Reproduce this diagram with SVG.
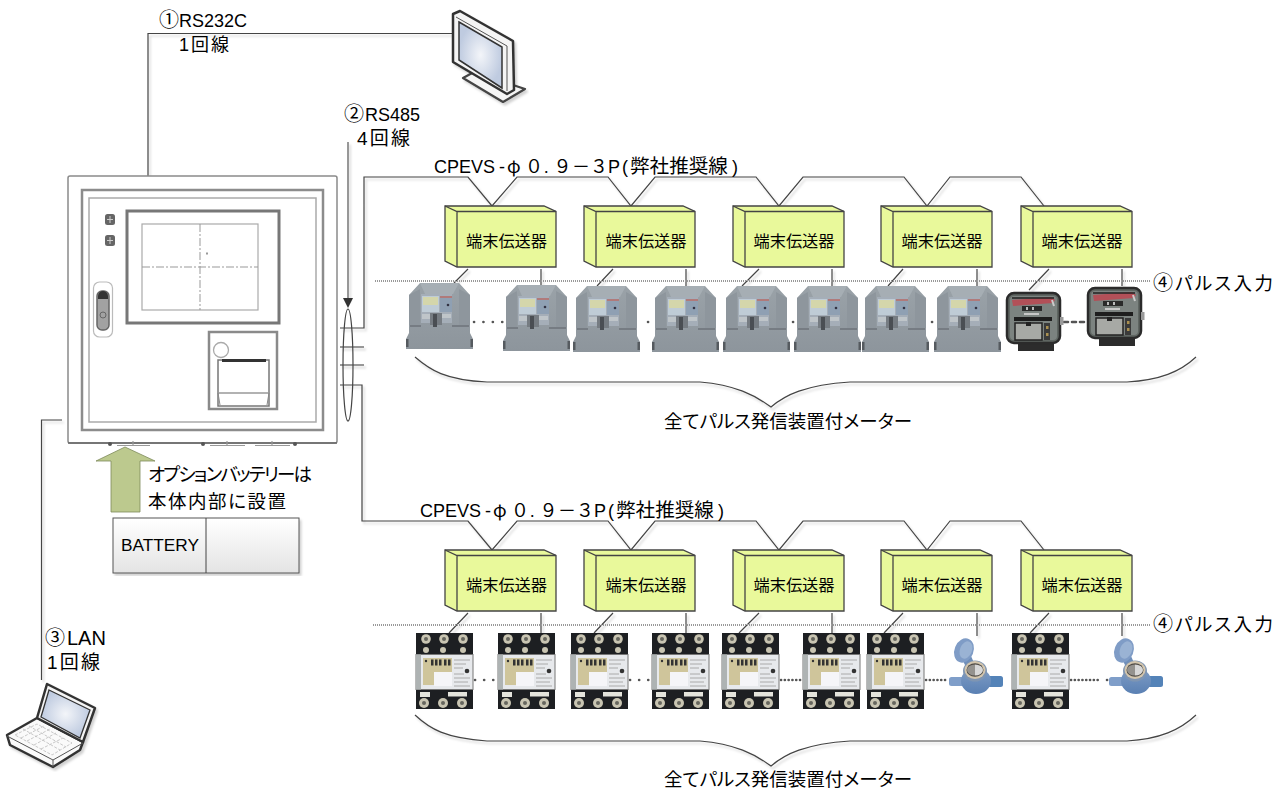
<svg xmlns="http://www.w3.org/2000/svg" width="1285" height="792" viewBox="0 0 1285 792">
<style>
text{font-family:"Liberation Sans","Noto Sans CJK JP",sans-serif;fill:#000}
.l{font-size:18px}
.cj{font-family:"Noto Sans CJK JP",sans-serif}
.dot{font-family:"Noto Sans CJK JP",sans-serif;font-size:10px;font-weight:700}
.big{font-size:18.500px;font-family:"Noto Sans CJK JP",sans-serif;font-feature-settings:"palt"}
.m{font-size:16.200px;text-anchor:middle;font-family:"Noto Sans CJK JP",sans-serif}
.c{fill:none;stroke:#444;stroke-width:1.2}
.cg{fill:none;stroke:#777;stroke-width:1.5}
.dotline{fill:none;stroke:#999;stroke-width:2;stroke-dasharray:1 1}
.d{fill:none;stroke:#555;stroke-width:2.6;stroke-linecap:round}
.box{fill:#e9f99b;stroke:#444;stroke-width:1.3}
.sh{filter:url(#shadow)}
</style>
<defs>
<filter id="shadow" x="-5%" y="-5%" width="110%" height="110%"><feDropShadow dx="2" dy="2.5" stdDeviation="1" flood-color="#000" flood-opacity="0.18"/></filter>
<radialGradient id="scr"><stop offset="0" stop-color="#f3f5f9"/><stop offset="1" stop-color="#bfcbe0"/></radialGradient>
<linearGradient id="batt" x1="0" y1="0" x2="0" y2="1"><stop offset="0" stop-color="#ffffff"/><stop offset="1" stop-color="#e4e4e4"/></linearGradient>
<linearGradient id="gm" x1="0" y1="0" x2="0" y2="1"><stop offset="0" stop-color="#9aa2a8"/><stop offset="1" stop-color="#8d959c"/></linearGradient>
<linearGradient id="wb" x1="0" y1="0" x2="0" y2="1"><stop offset="0" stop-color="#7f9dc6"/><stop offset="1" stop-color="#5a80b3"/></linearGradient>
<g id="terminal">
<path d="M0 0V55L12 61H111V5.500L99 0Z" class="box"/>
<path d="M0 0L12 5.500H111M12 5.500V61" class="box" style="fill:none"/>
</g>
<g id="gmeter">
<path d="M3 12L14 0H53L64 12V50L67 56V66H0V56L3 50Z" fill="url(#gm)"/>
<path d="M14 0H53L47 11H19Z" fill="#a6aeb4"/>
<path d="M3 12L14 6V42H3Z" fill="#8e969d"/><path d="M64 12L53 6V42H64Z" fill="#8e969d"/>
<path d="M4 43H15M46 43H63" stroke="#6d7379" stroke-width="1.300" fill="none"/>
<rect x="0" y="56" width="2.500" height="8" fill="#555a5f"/><rect x="64.500" y="56" width="2.500" height="8" fill="#555a5f"/>
<rect x="15" y="11" width="31" height="29" fill="#a5aeb8"/>
<rect x="16" y="13" width="17" height="16" fill="#bfccd6"/>
<rect x="17" y="14" width="15" height="8" fill="#d4d6ab"/>
<rect x="34" y="13" width="12" height="16" fill="#8fa0b3"/>
<rect x="34" y="13" width="12" height="2" fill="#b07a7a"/>
<circle cx="42" cy="22" r="1.300" fill="#334"/>
<rect x="16" y="31" width="9" height="5" fill="#bfc5c9"/><rect x="35" y="31" width="10" height="4" fill="#bfc5c9"/>
<rect x="24" y="30" width="12" height="12" fill="#767c82"/><rect x="27" y="31" width="4" height="13" fill="#4a4e53"/>
</g>
<g id="bmeter">
<rect x="12" y="44" width="36" height="15" fill="#2c2c2c"/>
<rect x="1" y="1" width="53" height="50" rx="7" fill="#5f6662" stroke="#2b2b2b" stroke-width="2.500"/>
<rect x="4" y="4" width="47" height="44" rx="4" fill="#7c8380"/>
<path d="M6 8L45 5L49 8L47 11L7 14Z" fill="#b25058"/>
<path d="M6 6H48" stroke="#222" stroke-width="1.500"/>
<rect x="16" y="14" width="20" height="5" fill="#2a2a2a"/>
<rect x="20" y="15" width="2" height="3" fill="#bbb"/><rect x="26" y="15" width="2" height="3" fill="#bbb"/>
<rect x="18" y="21" width="15" height="2" fill="#c8c8c8"/>
<rect x="8" y="25" width="38" height="4" fill="#1e1e1e"/>
<rect x="9" y="31" width="27" height="17" fill="#a7a9a5" stroke="#222" stroke-width="1.500"/>
<rect x="20" y="30" width="5" height="4" fill="#222"/>
<rect x="38" y="31" width="6" height="17" fill="#3a3a3a"/><rect x="40" y="34" width="2.500" height="3" fill="#a98f50"/><rect x="40" y="41" width="2.500" height="3" fill="#a98f50"/>
<path d="M46 8L48 14" stroke="#ccc" stroke-width="2"/>
<rect x="54" y="25" width="3.500" height="8" fill="#9a9a9a"/>
</g>
<g id="tmeter">
<rect x="0" y="0" width="57" height="76" fill="#1d1f22"/>
<g fill="#c9c5b2"><circle cx="10" cy="6" r="4.800"/><circle cx="28" cy="6" r="4.800"/><circle cx="47" cy="6" r="4.800"/><circle cx="10" cy="17" r="3"/><circle cx="27" cy="17" r="3"/><circle cx="47" cy="17" r="3"/><circle cx="8" cy="70" r="5"/><circle cx="27" cy="70" r="5"/><circle cx="46" cy="70" r="5"/></g>
<g fill="#66665e"><circle cx="10" cy="6" r="2"/><circle cx="28" cy="6" r="2"/><circle cx="47" cy="6" r="2"/><circle cx="8" cy="70" r="2"/><circle cx="27" cy="70" r="2"/><circle cx="46" cy="70" r="2"/></g>
<rect x="0" y="21.500" width="57" height="35" fill="#e7e9ec" stroke="#777"/>
<rect x="0" y="21.500" width="5" height="35" fill="#aeb3b3"/>
<path d="M7 25H36V39H18V52H7Z" fill="#cfc59b"/>
<rect x="18" y="39" width="18" height="14" fill="#f5f5f8"/>
<g fill="#333"><rect x="15" y="26.500" width="2.500" height="6"/><rect x="19" y="26.500" width="2.500" height="6"/><rect x="23" y="26.500" width="2.500" height="6"/><rect x="28" y="26.500" width="2.500" height="6"/><rect x="32" y="26.500" width="2.500" height="6"/><circle cx="10" cy="28" r="1.200"/><circle cx="51" cy="38" r="2.300"/></g>
<g stroke="#aaa" stroke-width="1" fill="none"><path d="M38 27H54M38 31H50M38 35H47M38 41H48M38 45H54M38 49H52M38 53H54"/></g>
<rect x="4" y="59" width="10" height="5" fill="#e4e4dc"/><rect x="32" y="59" width="19" height="4.500" fill="#e4e4dc"/>
</g>
<g id="wmeter">
<path d="M13 20L22 17L26 26L18 30Z" fill="#6f8fbb"/>
<ellipse cx="15" cy="11.500" rx="9.500" ry="12.500" transform="rotate(22 15 11.500)" fill="#7f9cc6"/>
<ellipse cx="17" cy="11" rx="6" ry="9" transform="rotate(22 17 11)" fill="#9ab3d4"/>
<rect x="0" y="38" width="16" height="9" rx="2.500" fill="#7f9ec9"/>
<rect x="38" y="37" width="16" height="11" rx="2.500" fill="#5483b8"/>
<ellipse cx="27" cy="42" rx="15" ry="13" fill="url(#wb)"/>
<ellipse cx="26" cy="32" rx="12" ry="10.500" fill="#7f95b2"/>
<ellipse cx="26" cy="31" rx="10.500" ry="9" fill="#d3c6ae"/>
<ellipse cx="26" cy="31" rx="8.500" ry="6.800" fill="#4e4a45"/>
<path d="M26 25.500A8 5.500 0 0 1 26 36.500Z" fill="#d8d8d8"/><path d="M26 25.500A8 5.500 0 0 0 26 36.500Z" fill="#94928e"/>
</g>
</defs>
<rect width="1285" height="792" fill="#fff"/>

<g id="connectors">
<g class="sh">
<path class="c" d="M148 176V33.500H453"/>
<path class="cg" d="M348 142V300"/>
<path class="c" d="M340 328H364V177H468L492 206L517 177H608L631 206L655 177H756L779 206L803 177H904L927 206L950 177H1021L1044 206"/>
<path class="c" d="M340 385H362V521H468L492 550L517 521H608L631 550L655 521H756L779 550L803 521H904L927 550L950 521H1021L1044 550"/>
<path class="cg" d="M340 347H364M340 365H364"/>
<path class="c" d="M62 420H41.500V680"/>
<path class="c" d="M468 269L454 283M541 269V285M613 269L597 286M686 269V286M759 269L742 286M832 269V286M903 269L888 286M977 269V286M1049 269L1029 290M1122 269V286"/>
<path class="c" d="M468 613L449 633M541 613V633M613 613L594 633M686 613V633M759 613L739 633M832 613V633M903 613L884 633M977 613V636M1049 613L1030 633M1122 613V636"/>
<path class="c" d="M415 357C430 370 445 380 487 382H700C735 385 755 395 771 407C785 395 805 385 850 382H1127C1160 380 1180 372 1196 357"/>
<path class="c" d="M415 715C430 729 445 738 487 741H700C735 744 755 754 771 766C785 754 805 744 850 741H1127C1160 739 1180 730 1196 715"/>
</g>
<ellipse cx="348" cy="365" rx="5" ry="56" class="c"/>
<path d="M343 298H353L348 308Z" fill="#333"/>
<path class="dotline" d="M375 281H1150"/>
<path class="dotline" d="M373 625H1150"/>
<path class="d" stroke-dasharray="0.1 9.300" d="M474 322H503M648 322H649M793 322H794M932 322H933"/>
<path class="d" stroke-dasharray="4 4" d="M1064 322H1088"/>
<path class="d" stroke-dasharray="0.1 9" d="M475 680H494M630 680H649"/>
<path class="d" stroke-dasharray="0.1 3.700" d="M781 680H802M926 680H948M1071 680H1099M1107 680H1108"/>
</g>

<g id="cabinet" fill="none">
<rect x="68" y="176" width="269" height="267" rx="2" fill="#fff" stroke="#8a8a8a" stroke-width="1.500"/>
<path d="M68 443H337" stroke="#666" stroke-width="1.500"/>
<rect x="82" y="190" width="241" height="240" stroke="#8c8c8c" stroke-width="2.500"/>
<rect x="89" y="198" width="227" height="224" stroke="#aaa" stroke-width="1.500"/>
<rect x="127" y="211" width="152" height="112" stroke="#777" stroke-width="3"/>
<rect x="142" y="224" width="116" height="86" stroke="#aaa" stroke-width="1.200"/>
<path d="M200 224V310M142 267H258" stroke="#999" stroke-width="1" stroke-dasharray="8 2 2 2"/>
<rect x="206" y="252.500" width="2" height="2" fill="#999"/>
<rect x="105" y="214" width="10" height="11" rx="2.500" fill="#666"/><path d="M107 219.500H113M110 216V223" stroke="#ccc" stroke-width="1"/>
<rect x="105" y="235" width="10" height="11" rx="2.500" fill="#666"/><path d="M107 240.500H113M110 237V244" stroke="#ccc" stroke-width="1"/>
<rect x="93.500" y="282" width="19" height="55" rx="6" stroke="#bbb" stroke-width="1.200"/>
<rect x="97" y="291" width="12" height="39" rx="5" fill="#a2a2a2" stroke="#666" stroke-width="1.500"/>
<path d="M98 299V296A5 5 0 0 1 108 296V299Z" fill="#333"/>
<circle cx="103" cy="315" r="3" stroke="#666"/>
<rect x="209" y="332" width="68" height="77" stroke="#8a8a8a" stroke-width="2.500"/>
<circle cx="221" cy="350" r="7.500" stroke="#aaa" stroke-width="1.300" fill="#fff"/>
<rect x="218" y="360" width="51" height="46" stroke="#777" stroke-width="1.500"/>
<path d="M222 360.500H266" stroke="#333" stroke-width="3"/>
<path d="M218 393H269" stroke="#999" stroke-width="1.300"/><path d="M218 393L220 405M269 393L267 405" stroke="#888"/>
<g fill="#555"><circle cx="110" cy="444" r="2"/><circle cx="203" cy="444" r="2"/><circle cx="295" cy="444" r="2"/></g>
<path d="M117 445.500H150M133 441V446M210 445.500H245M227 441V446M255 445.500H290M272 441V446" stroke="#999" stroke-width="1.200"/>
</g>

<g id="battery-arrow">
<path d="M125 447L155 461H140V512H111V461H96Z" fill="#bcc98e" stroke="#7e8a5b" stroke-width="0.800"/>
</g>
<g id="battery">
<rect x="113" y="518" width="186" height="55" fill="url(#batt)" stroke="#555" stroke-width="1" class="sh"/>
<path d="M206 518V573" stroke="#444" stroke-width="1"/>
<text x="121" y="551" font-size="16" textLength="78" lengthAdjust="spacingAndGlyphs">BATTERY</text>
</g>

<g id="monitor">
<g class="sh">
<path d="M463 78L474 72L525 89L503 102Z" fill="#f5f5f5" stroke="#444" stroke-width="2.200" stroke-linejoin="round"/>
<path d="M453 14L460 11L513 41L514 90L507 94L453 62Z" fill="#f4f4f4" stroke="#333" stroke-width="2.500" stroke-linejoin="round"/>
</g>
<path d="M459 22L502 47V88L459 60Z" fill="url(#scr)" stroke="#333" stroke-width="1.500"/>
<path d="M456 17L507 46V91" fill="none" stroke="#555" stroke-width="1"/>
</g>

<g id="laptop">
<g class="sh">
<path d="M7 735L37 718L83 742L80 750L53 767L10 745Z" fill="#fafafa" stroke="#333" stroke-width="2.500" stroke-linejoin="round"/>
<path d="M47 684L95 708L83 742L37 718Z" fill="#f4f4f4" stroke="#333" stroke-width="2.500" stroke-linejoin="round"/>
</g>
<path d="M49 690L90 710L80 738L41 717Z" fill="url(#scr)" stroke="#333" stroke-width="1.300"/>
<path d="M7 736L53 760V767M53 760L83 743" fill="none" stroke="#555" stroke-width="1"/>
<path d="M15 735L37 724L72 743L52 755ZM21 738L44 726M27 741L50 729M34 745L56 733M41 749L63 738M23 729L60 750M29 726L66 747" fill="none" stroke="#bbb" stroke-width="0.800" stroke-dasharray="3 1.500"/>
</g>

<g id="terminal-u1"><use href="#terminal" x="445" y="206"/><text class="m" x="506.500" y="246.500">端末伝送器</text></g>
<g id="terminal-u2"><use href="#terminal" x="584" y="206"/><text class="m" x="646" y="246.500">端末伝送器</text></g>
<g id="terminal-u3"><use href="#terminal" x="733" y="206"/><text class="m" x="794" y="246.500">端末伝送器</text></g>
<g id="terminal-u4"><use href="#terminal" x="881" y="206"/><text class="m" x="942" y="246.500">端末伝送器</text></g>
<g id="terminal-u5"><use href="#terminal" x="1021" y="206"/><text class="m" x="1082" y="246.500">端末伝送器</text></g>
<g id="terminal-l1"><use href="#terminal" x="445" y="550"/><text class="m" x="506.500" y="590.500">端末伝送器</text></g>
<g id="terminal-l2"><use href="#terminal" x="584" y="550"/><text class="m" x="646" y="590.500">端末伝送器</text></g>
<g id="terminal-l3"><use href="#terminal" x="733" y="550"/><text class="m" x="794" y="590.500">端末伝送器</text></g>
<g id="terminal-l4"><use href="#terminal" x="881" y="550"/><text class="m" x="942" y="590.500">端末伝送器</text></g>
<g id="terminal-l5"><use href="#terminal" x="1021" y="550"/><text class="m" x="1082" y="590.500">端末伝送器</text></g>

<g id="meters-upper">
<use href="#gmeter" x="406" y="283"/><use href="#gmeter" x="503" y="285"/><use href="#gmeter" x="573" y="286"/><use href="#gmeter" x="652" y="286"/><use href="#gmeter" x="723" y="286"/><use href="#gmeter" x="794" y="286"/><use href="#gmeter" x="862" y="286"/><use href="#gmeter" x="934" y="286"/>
<use href="#bmeter" x="1006" y="292"/><use href="#bmeter" x="1087" y="287"/>
</g>
<g id="meters-lower">
<use href="#tmeter" x="416" y="633"/><use href="#tmeter" x="498" y="633"/><use href="#tmeter" x="571" y="633"/><use href="#tmeter" x="652" y="633"/><use href="#tmeter" x="722" y="633"/><use href="#tmeter" x="803" y="633"/><use href="#tmeter" x="867" y="633"/><use href="#tmeter" x="1012" y="633"/>
<use href="#wmeter" x="949" y="639"/><use href="#wmeter" x="1109" y="639"/>
</g>

<g id="labels" class="l">
<text x="159" y="27"><tspan class="cj" font-size="20">①</tspan><tspan x="179">RS232C</tspan></text>
<text x="179" y="51" textLength="50">1回線</text>
<text x="344" y="121"><tspan class="cj" font-size="20">②</tspan><tspan x="365">RS485</tspan></text>
<text x="357" y="145" textLength="53" style="font-size:19px">4回線</text>
<text id="cpevs-upper"><tspan x="434" y="173">CPEVS</tspan><tspan x="499">-</tspan><tspan class="cj" x="507">φ</tspan><tspan class="cj" x="525">０</tspan><tspan class="dot" x="543.500">．</tspan><tspan class="cj" x="553.500">９</tspan><tspan class="cj" x="572">－</tspan><tspan class="cj" x="590">３</tspan><tspan x="608">P</tspan><tspan x="622">(</tspan><tspan class="cj" x="630" style="font-size:19.600px">弊社推奨線</tspan><tspan x="732">)</tspan></text>
<text id="cpevs-lower" transform="translate(-14,344)"><tspan x="434" y="173">CPEVS</tspan><tspan x="499">-</tspan><tspan class="cj" x="507">φ</tspan><tspan class="cj" x="525">０</tspan><tspan class="dot" x="543.500">．</tspan><tspan class="cj" x="553.500">９</tspan><tspan class="cj" x="572">－</tspan><tspan class="cj" x="590">３</tspan><tspan x="608">P</tspan><tspan x="622">(</tspan><tspan class="cj" x="630" style="font-size:19.600px">弊社推奨線</tspan><tspan x="732">)</tspan></text>
<text x="45" y="645" style="font-size:20px"><tspan class="cj">③</tspan><tspan x="67">LAN</tspan></text>
<text x="47" y="669" textLength="53" style="font-size:19px">1回線</text>
<text class="big" x="148" y="480.500" textLength="164">オプションバッテリーは</text>
<text class="big" x="148" y="507.500" textLength="138">本体内部に設置</text>
<text x="1153" y="290" style="font-size:20px"><tspan class="cj">④</tspan><tspan class="big" x="1175" textLength="98">パルス入力</tspan></text>
<text x="1153" y="631" style="font-size:20px"><tspan class="cj">④</tspan><tspan class="big" x="1175" textLength="98">パルス入力</tspan></text>
<text class="big" x="664" y="428" textLength="248">全てパルス発信装置付メーター</text>
<text class="big" x="664" y="786" textLength="248">全てパルス発信装置付メーター</text>
</g>
</svg>
